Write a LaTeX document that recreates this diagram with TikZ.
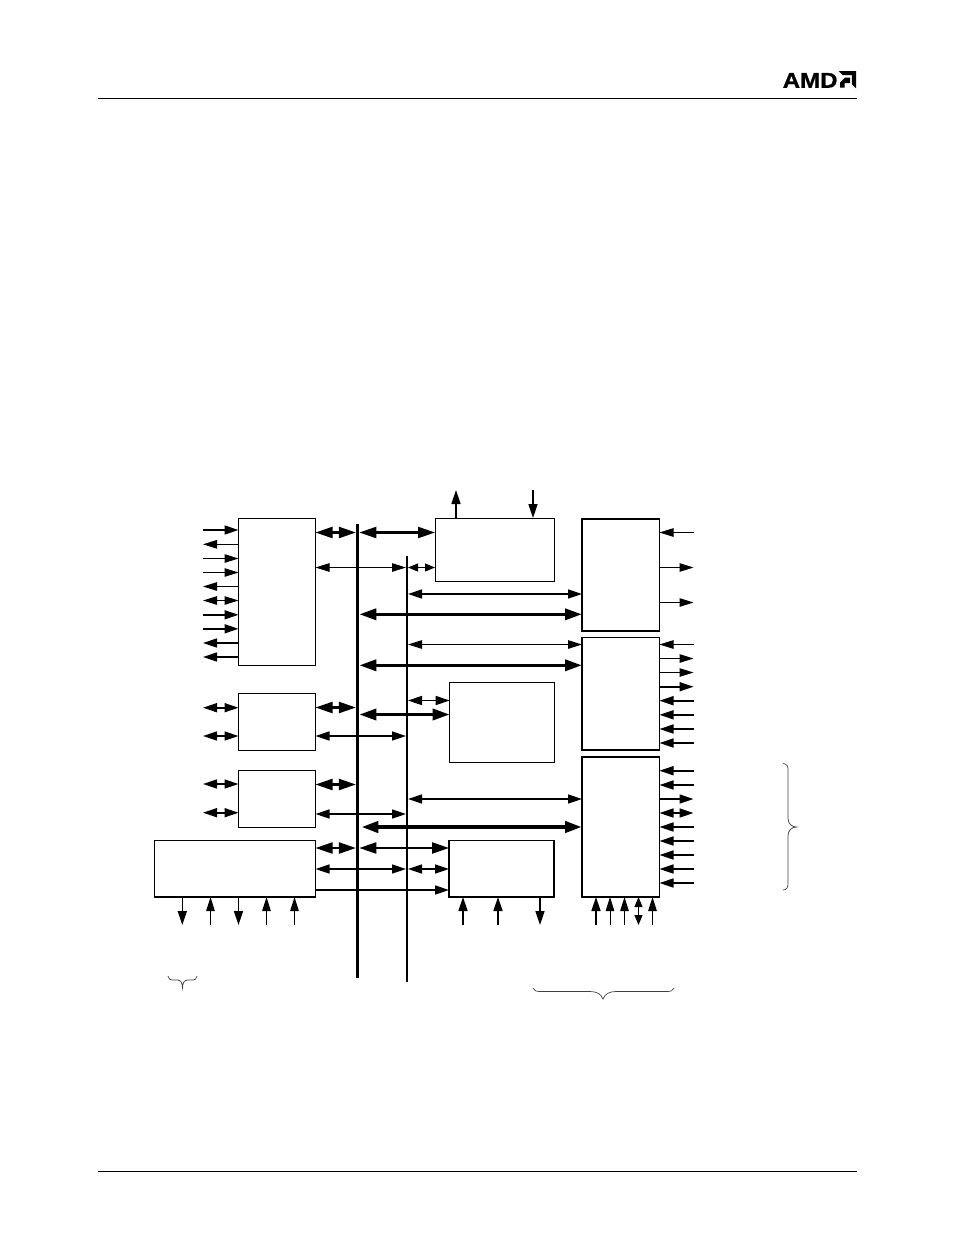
\documentclass[tikz,border=0pt]{standalone}
\usepackage{fontspec}
\setmainfont{Liberation Sans}
\newfontfamily\amdfont[UprightFont=* Bold,FakeBold=0.8]{Liberation Sans}
\usetikzlibrary{arrows.meta}
\tikzset{
  block/.style={draw=black,fill=white,line width=#1,inner sep=0pt,outer sep=0pt,anchor=north west},
  block/.default=1pt,
  busbar/.style={fill=black,inner sep=0pt,outer sep=0pt,anchor=north},
  tn/.style={line width=1pt,>={Triangle[length=14pt,width=8.5pt]}},
  md/.style={line width=1.6pt,>={Triangle[length=14pt,width=9pt]}},
  tk/.style={line width=2.2pt,>={Triangle[length=17pt,width=11pt]}},
  xk/.style={line width=3.4pt,>={Triangle[length=17pt,width=11pt]}},
  sm/.style={line width=1pt,>={Triangle[length=10pt,width=8pt]}},
  bracecurve/.style={line width=.7pt,draw=black!75},
  rulefr/.style={line width=1pt,draw=black}
}
\begin{document}
\begin{tikzpicture}[x=1pt,y=-1pt]
\useasboundingbox (0,0) rectangle (954,1235);
% rules
\coordinate (h1) at (98,98.5); \coordinate (h2) at (857,98.5);
\coordinate (f1) at (98,1171.5); \coordinate (f2) at (857,1171.5);
\draw[rulefr] (h1) -- (h2);
\draw[rulefr] (f1) -- (f2);
% logo
\node[inner sep=0pt,anchor=base west,xscale=1.12,font=\fontsize{21.5}{21.5}\selectfont\amdfont] (amd) at (782.5,87.8) {AMD};
\fill (838.5,71) -- (856,71) -- (856,88.5) -- (851.8,84.3) -- (851.8,75.2) -- (842.7,75.2) -- cycle;
\fill (850,77.5) -- (845,77.5) -- (840,82.5) -- (840,87.5) -- (844.5,87.5) -- (844.5,83) -- (850,83) -- cycle;
% buses
\node[busbar,minimum width=3.4pt,minimum height=454pt] (busA) at (357.6,524) {};
\node[busbar,minimum width=2pt,minimum height=426pt] (busB) at (407,556) {};
% blocks
\node[block,minimum width=77pt,minimum height=147pt] (A) at (238.5,518.5) {};
\node[block=1pt,minimum width=77pt,minimum height=56.5pt] (B) at (238.5,693.5) {};
\node[block=1pt,minimum width=77pt,minimum height=56.5pt] (C) at (238.5,770.5) {};
\node[block=1.4pt,minimum width=161pt,minimum height=56.5pt] (D) at (154.5,840.5) {};
\node[block=1pt,minimum width=119pt,minimum height=63pt] (E) at (435,518.5) {};
\node[block=1.4pt,minimum width=77.5pt,minimum height=112pt] (F) at (582,519) {};
\node[block=1.2pt,minimum width=77.5pt,minimum height=112.5pt] (G) at (582,637.5) {};
\node[block=1.2pt,minimum width=104.5pt,minimum height=79.5pt] (H) at (449.7,682.7) {};
\node[block=1.4pt,minimum width=105pt,minimum height=56.5pt] (I) at (449,840.5) {};
\node[block=1.4pt,minimum width=77.5pt,minimum height=140pt] (J) at (582,757) {};
% free-end columns and rows
\coordinate (Lx) at (203,0);
\coordinate (Rx) at (693.5,0);
\coordinate (Dy) at (0,925);
\coordinate (Ty) at (0,490);
% A left pins
\draw[md,->] (Lx |- 0,530) -- (A.west |- 0,530);
\draw[tn,<-] (Lx |- 0,544.3) -- (A.west |- 0,544.3);
\draw[tn,->] (Lx |- 0,558.5) -- (A.west |- 0,558.5);
\draw[tn,->] (Lx |- 0,572.5) -- (A.west |- 0,572.5);
\draw[tn,<-] (Lx |- 0,586.5) -- (A.west |- 0,586.5);
\draw[tn,<->] (Lx |- 0,600.5) -- (A.west |- 0,600.5);
\draw[md,->] (Lx |- 0,614.8) -- (A.west |- 0,614.8);
\draw[md,->] (Lx |- 0,628.8) -- (A.west |- 0,628.8);
\draw[md,<-] (Lx |- 0,643) -- (A.west |- 0,643);
\draw[md,<-] (Lx |- 0,657) -- (A.west |- 0,657);
% B, C left pins
\draw[md,<->] (Lx |- 0,707.7) -- (B.west |- 0,707.7);
\draw[md,<->] (Lx |- 0,736) -- (B.west |- 0,736);
\draw[md,<->] (Lx |- 0,784) -- (C.west |- 0,784);
\draw[md,<->] (Lx |- 0,812.7) -- (C.west |- 0,812.7);
% A/B/C/D to buses
\draw[tk,<->] (A.east |- 0,532.5) -- (busA.west |- 0,532.5);
\draw[tk,<->] (busA.east |- 0,532.5) -- (E.west |- 0,532.5);
\draw[tn,<->] (A.east |- 0,567.5) -- (busB.west |- 0,567.5);
\draw[sm,<->] (busB.east |- 0,567.5) -- (E.west |- 0,567.5);
\draw[tk,<->] (B.east |- 0,707.5) -- (busA.west |- 0,707.5);
\draw[md,<->] (B.east |- 0,736) -- (busB.west |- 0,736);
\draw[tk,<->] (C.east |- 0,784.5) -- (busA.west |- 0,784.5);
\draw[md,<->] (C.east |- 0,814) -- (busB.west |- 0,814);
\draw[tk,<->] (D.east |- 0,848) -- (busA.west |- 0,848);
\draw[tk,<->] (busA.east |- 0,848) -- (I.west |- 0,848);
\draw[md,<->] (D.east |- 0,869) -- (busB.west |- 0,869);
\draw[md,<->] (busB.east |- 0,869) -- (I.west |- 0,869);
\draw[md,->] (D.east |- 0,890) -- (I.west |- 0,890);
% bus to right blocks
\draw[md,<->] (busB.east |- 0,594) -- (F.west |- 0,594);
\draw[xk,<->] (busA.east |- 0,614.3) -- (F.west |- 0,614.3);
\draw[tn,<->] (busB.east |- 0,644.5) -- (G.west |- 0,644.5);
\draw[xk,<->] (busA.east |- 0,665.3) -- (G.west |- 0,665.3);
\draw[md,<->] (busB.east |- 0,700.5) -- (H.west |- 0,700.5);
\draw[xk,<->] (busA.east |- 0,714.5) -- (H.west |- 0,714.5);
\draw[md,<->] (busB.east |- 0,799) -- (J.west |- 0,799);
\draw[xk,line width=4pt,<->] ([xshift=2pt]busA.east |- 0,827) -- (J.west |- 0,827);
% E top
\draw[md,->] (E.north |- 0,518) ++(-38.5,0) coordinate (e1) -- (e1 |- Ty);
\draw[md,<-] (E.north |- 0,518) ++(38.5,0) coordinate (e2) -- (e2 |- Ty);
% D bottom
\draw[md,->] (182.3,897) coordinate (d1) -- (d1 |- Dy);
\draw[tn,<-] (210.5,897) coordinate (d2) -- (d2 |- Dy);
\draw[md,->] (238.5,897) coordinate (d3) -- (d3 |- Dy);
\draw[tn,<-] (266.5,897) coordinate (d4) -- (d4 |- Dy);
\draw[tn,<-] (294.5,897) coordinate (d5) -- (d5 |- Dy);
% I bottom
\draw[md,<-] (463,897) coordinate (i1) -- (i1 |- Dy);
\draw[md,<-] (498,897) coordinate (i2) -- (i2 |- Dy);
\draw[md,->] (540,897) coordinate (i3) -- (i3 |- Dy);
% J bottom
\draw[md,<-] (596,897) coordinate (j1) -- (j1 |- Dy);
\draw[tn,<-] (610,897) coordinate (j2) -- (j2 |- Dy);
\draw[tn,<-] (624.5,897) coordinate (j3) -- (j3 |- Dy);
\draw[sm,<->] (638.5,897) coordinate (j4) -- (j4 |- Dy);
\draw[tn,<-] (652.5,897) coordinate (j5) -- (j5 |- Dy);
% F right
\draw[tn,<-] (F.east |- 0,532.5) -- (Rx |- 0,532.5);
\draw[tn,->] (F.east |- 0,567.5) -- (Rx |- 0,567.5);
\draw[tn,->] (F.east |- 0,602.5) -- (Rx |- 0,602.5);
% G right
\draw[tn,<-] (G.east |- 0,644.5) -- (Rx |- 0,644.5);
\draw[tn,->] (G.east |- 0,658.5) -- (Rx |- 0,658.5);
\draw[tn,->] (G.east |- 0,672.5) -- (Rx |- 0,672.5);
\draw[md,->] (G.east |- 0,686.7) -- (Rx |- 0,686.7);
\draw[md,<-] (G.east |- 0,700.7) -- (Rx |- 0,700.7);
\draw[md,<-] (G.east |- 0,714.8) -- (Rx |- 0,714.8);
\draw[md,<-] (G.east |- 0,729) -- (Rx |- 0,729);
\draw[md,<-] (G.east |- 0,743) -- (Rx |- 0,743);
% J right
\draw[md,<-] (J.east |- 0,770.7) -- (Rx |- 0,770.7);
\draw[md,<-] (J.east |- 0,785) -- (Rx |- 0,785);
\draw[md,->] (J.east |- 0,799) -- (Rx |- 0,799);
\draw[md,<->] (J.east |- 0,813) -- (Rx |- 0,813);
\draw[md,<-] (J.east |- 0,827) -- (Rx |- 0,827);
\draw[md,<-] (J.east |- 0,841) -- (Rx |- 0,841);
\draw[md,<-] (J.east |- 0,855) -- (Rx |- 0,855);
\draw[md,<-] (J.east |- 0,869) -- (Rx |- 0,869);
\draw[md,<-] (J.east |- 0,883) -- (Rx |- 0,883);
% braces
\draw[bracecurve] (783,763.5) .. controls (787,764) and (788,766) .. (788,770) -- (788,818) .. controls (788,824) and (792,827) .. (796.5,827) .. controls (792,827) and (788,830) .. (788,836) -- (788,883) .. controls (788,887) and (787,890) .. (783,890);
\draw[bracecurve] (533,988) .. controls (534,990.5) and (536,991.5) .. (540,991.5) -- (590,991.5) .. controls (597,991.5) and (601,994) .. (603,999) .. controls (605,994) and (609,991.5) .. (616,991.5) -- (667,991.5) .. controls (671,991.5) and (673,990.5) .. (674,988);
\draw[bracecurve] (168,976) .. controls (168.5,979) and (170,980) .. (172,980) -- (178,980) .. controls (180,980) and (182,981) .. (182.5,988) .. controls (183,981) and (185,980) .. (187,980) -- (193,980) .. controls (195,980) and (196.5,979) .. (197,976);
\end{tikzpicture}
\end{document}
